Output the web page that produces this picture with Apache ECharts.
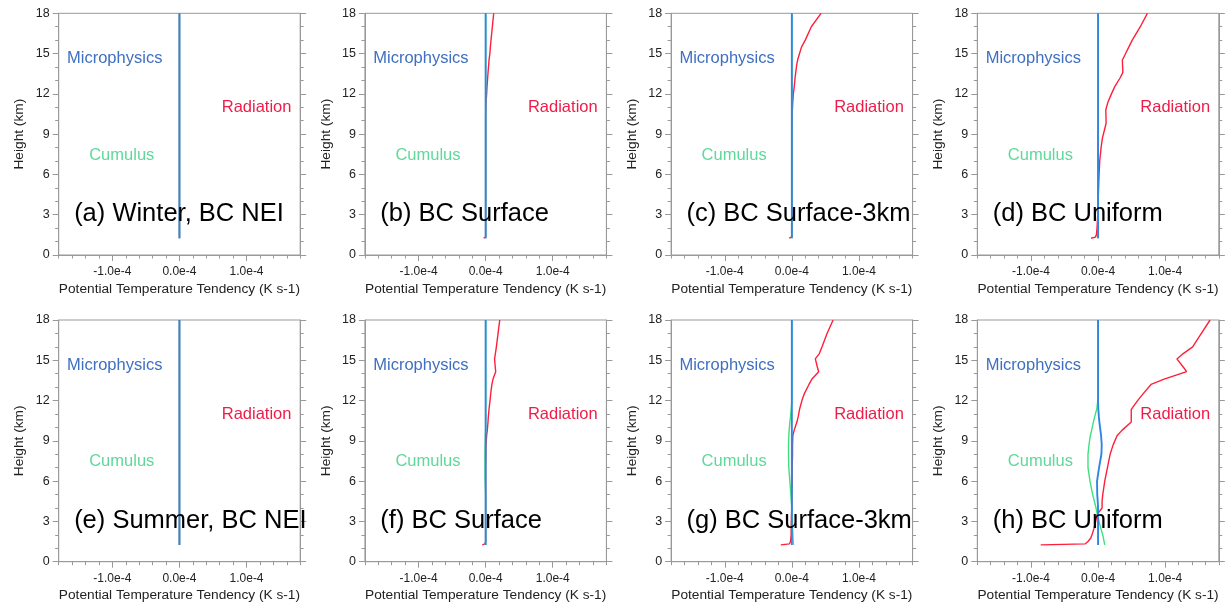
<!DOCTYPE html>
<html><head><meta charset="utf-8">
<script src="https://cdn.jsdelivr.net/npm/echarts@6/dist/echarts.min.js"></script>
<style>html,body{margin:0;padding:0;background:#fff}#c{width:1225px;height:610px}</style>
</head><body><div id="c"></div>
<script>
// Values in units of 1e-4 K s-1
const UNIT = 1e-4;
const heights = [1.25,1.33,1.5,1.75,2,2.5,3,3.5,4,4.5, 5,6,7,8,8.7,9.4,9.8,10.4,10.8,11.35, 12,12.5,13.2,13.6,14.15,14.5,15.1,15.5,16,17, 18];
const zeroProfile = [0,0,0,0,0,0,0,0,0,0, 0,0,0,0,0,0,0,0,0,0, 0,0,0,0,0,0,0,0,0,0, 0];

const radB = [-0.03,0,0,0,0,0,0,0,0,0, 0,0,0,0,0,0,0,0,0.002,0.005, 0.015,0.02,0.03,0.036,0.045,0.05,0.065,0.07,0.08,0.1, 0.12];
const radC = [-0.04,-0.005,0,0,0,0,0,0,0,0, 0,0,0,0,0,0,0.002,0.005,0.008,0.013, 0.022,0.035,0.048,0.058,0.072,0.085,0.12,0.145,0.2,0.29, 0.435];
const radD = [-0.105,-0.04,-0.025,-0.02,-0.015,-0.01,-0.005,0,0,0.005, 0.008,0.015,0.025,0.045,0.065,0.1,0.12,0.118,0.115,0.145, 0.2,0.245,0.33,0.37,0.365,0.362,0.42,0.46,0.51,0.63, 0.735];
const radF = [-0.05,-0.01,0,0,0,0,0,0,0,0, 0,0,0,0.003,0.005,0.015,0.025,0.035,0.04,0.05, 0.065,0.075,0.093,0.11,0.15,0.143,0.133,0.145,0.16,0.185, 0.21];
const radG = [-0.165,-0.035,-0.02,-0.015,-0.01,-0.01,-0.008,-0.005,0,0, 0,0.005,0.005,0.01,0.01,0.015,0.035,0.075,0.095,0.115, 0.15,0.185,0.255,0.3,0.4,0.38,0.35,0.41,0.45,0.525, 0.615];
const radH = [-0.855,-0.19,-0.15,-0.11,-0.09,-0.06,-0.035,-0.015,0.06,0.06, 0.07,0.1,0.14,0.18,0.225,0.285,0.36,0.495,0.495,0.495, 0.59,0.67,0.79,0.985,1.32,1.27,1.175,1.27,1.41,1.54, 1.67];

const cuD = [0,0,0,0,-0.005,-0.005,-0.005,-0.005,-0.005,-0.005, -0.005,0,0,0,0,0,0,0,0,0, 0,0,0,0,0,0,0,0,0,0, 0];
const cuF = [0,0,0,0,0,0,0,0,0,0, 0,-0.008,-0.01,-0.01,-0.008,-0.005,0,0,0,0, 0,0,0,0,0,0,0,0,0,0, 0];
const cuG = [0.025,0.025,0.02,0.018,0.015,0.01,0.005,0,0,-0.008, -0.015,-0.03,-0.045,-0.05,-0.05,-0.045,-0.04,-0.03,-0.02,-0.01, 0,0,0,0,0,0,0,0,0,0, 0];
const cuH = [0.1,0.1,0.09,0.08,0.07,0.04,0.015,-0.01,-0.03,-0.055, -0.08,-0.12,-0.15,-0.15,-0.135,-0.115,-0.095,-0.07,-0.05,-0.02, -0.003,0,0,0,0,0,0,0,0,0, 0];
const mpH = [0,0,0,0,0,0,0,0,0,-0.005, -0.012,-0.015,0.015,0.05,0.055,0.045,0.035,0.02,0.012,0.004, 0,0,0,0,0,0,0,0,0,0, 0];

const panelTitles = ['(a) Winter, BC NEI','(b) BC Surface','(c) BC Surface-3km','(d) BC Uniform',
                     '(e) Summer, BC NEI','(f) BC Surface','(g) BC Surface-3km','(h) BC Uniform'];
const radiation = [zeroProfile, radB, radC, radD, zeroProfile, radF, radG, radH];
const cumulus = [zeroProfile, zeroProfile, zeroProfile, cuD, zeroProfile, cuF, cuG, cuH];
const microphysics = [zeroProfile, zeroProfile, zeroProfile, zeroProfile, zeroProfile, zeroProfile, zeroProfile, mpH];

const xMajorTicks = [-1, 0, 1];
const xMinorTicks = [-1.8,-1.6,-1.4,-1.2,-0.8,-0.6,-0.4,-0.2,0.2,0.4,0.6,0.8,1.2,1.4,1.6,1.8];
const xRange = [-1.8, 1.8];
const yTicks = {min: 0, max: 18, interval: 3};

// annotation anchor points (x in 1e-4 units, y in km)
const annoMicro = [-0.965, 14.65];
const annoRad = [1.15, 11.0];
const annoCu = [-0.86, 7.45];
const annoTitle = [-1.57, 3.05];

const FONT = '"Liberation Sans", Arial, Helvetica, sans-serif';
const COL_RAD = '#ff1f3a', COL_CU = '#3fe07f', COL_MP = '#2f86e2';
const TXT_RAD = '#f01c48', TXT_CU = '#5fd99a', TXT_MP = '#3f6fc0';
const AXC = '#999';

const W = 241.5, H = 241.7;
const lefts = [58.7, 364.9, 671.1, 977.3];
const tops = [13.3, 320.0];

const grids = [], xAxes = [], yAxes = [], series = [];
for (let i = 0; i < 8; i++) {
  const r = Math.floor(i / 4), c = i % 4;
  grids.push({left: lefts[c], top: tops[r], width: W, height: H, show: true,
    borderColor: AXC, borderWidth: 1, backgroundColor: 'transparent', containLabel: false, outerBoundsMode: 'none'});
  xAxes.push({type: 'value', gridIndex: i, position: 'bottom', min: xRange[0]*UNIT, max: xRange[1]*UNIT,
    axisLine: {show: true, onZero: false, lineStyle: {color: AXC, width: 1}},
    axisTick: {show: true, length: 6, customValues: xMajorTicks.map(v => v*UNIT), lineStyle: {color: AXC}},
    axisLabel: {show: true, customValues: xMajorTicks.map(v => v*UNIT), fontSize: 12, color: '#222', fontFamily: FONT, margin: 11,
      formatter: v => { let n = v / UNIT; if (Math.abs(n) < 1e-9) n = 0; return n.toFixed(1) + 'e-4'; }},
    splitLine: {show: false},
    name: 'Potential Temperature Tendency (K s-1)', nameLocation: 'middle', nameGap: 27,
    nameTextStyle: {fontSize: 13.7, color: '#222', fontFamily: FONT}});
  xAxes.push({type: 'value', gridIndex: i, position: 'top', offset: -H, min: xRange[0]*UNIT, max: xRange[1]*UNIT,
    axisLine: {show: false, onZero: false},
    axisTick: {show: true, inside: true, length: 3.5, customValues: xMinorTicks.map(v => v*UNIT), lineStyle: {color: AXC}},
    axisLabel: {show: false}, splitLine: {show: false}});
  const yBase = {type: 'value', gridIndex: i, min: yTicks.min, max: yTicks.max, interval: yTicks.interval,
    axisLine: {show: true, onZero: false, lineStyle: {color: AXC, width: 1}},
    axisTick: {show: true, length: 6, lineStyle: {color: AXC}},
    minorTick: {show: true, splitNumber: 3, length: 3.5, lineStyle: {color: AXC}},
    splitLine: {show: false}, minorSplitLine: {show: false}};
  yAxes.push(Object.assign({}, yBase, {position: 'left',
    axisLabel: {show: true, fontSize: 12.5, color: '#222', fontFamily: FONT, margin: 9},
    name: 'Height (km)', nameLocation: 'middle', nameGap: 32,
    nameTextStyle: {fontSize: 13.7, color: '#222', fontFamily: FONT}}));
  yAxes.push(Object.assign({}, yBase, {position: 'right', axisLabel: {show: false}}));

  const mk = (arr) => heights.map((h, k) => [arr[k] * UNIT, h]);
  const lineBase = {type: 'line', xAxisIndex: 2*i, yAxisIndex: 2*i, showSymbol: false, symbol: 'none',
    smooth: false, animation: false, silent: true};
  series.push(Object.assign({}, lineBase, {name: 'Radiation', data: mk(radiation[i]), lineStyle: {color: COL_RAD, width: 1.4}}));
  series.push(Object.assign({}, lineBase, {name: 'Cumulus', data: mk(cumulus[i]), lineStyle: {color: COL_CU, width: 1.4}}));
  series.push(Object.assign({}, lineBase, {name: 'Microphysics', data: mk(microphysics[i]), lineStyle: {color: COL_MP, width: 1.9}}));
}

const chart = echarts.init(document.getElementById('c'), null, {renderer: 'canvas'});
chart.setOption({backgroundColor: '#fff', animation: false, grid: grids, xAxis: xAxes, yAxis: yAxes, series: series});

// Text annotations placed through the axes' own scales
const texts = [];
for (let i = 0; i < 8; i++) {
  const finder = {xAxisIndex: 2*i, yAxisIndex: 2*i};
  const add = (pt, text, color, size, align) => {
    const p = chart.convertToPixel(finder, [pt[0]*UNIT, pt[1]]);
    texts.push({type: 'text', x: p[0], y: p[1], silent: true, z: 100,
      style: {text: text, fill: color, font: size + 'px ' + FONT, align: align, verticalAlign: 'middle'}});
  };
  add(annoMicro, 'Microphysics', TXT_MP, 16.5, 'center');
  add(annoRad, 'Radiation', TXT_RAD, 16.5, 'center');
  add(annoCu, 'Cumulus', TXT_CU, 16.5, 'center');
  add(annoTitle, panelTitles[i], '#000', 25.5, 'left');
}
chart.setOption({graphic: texts});
</script></body></html>
